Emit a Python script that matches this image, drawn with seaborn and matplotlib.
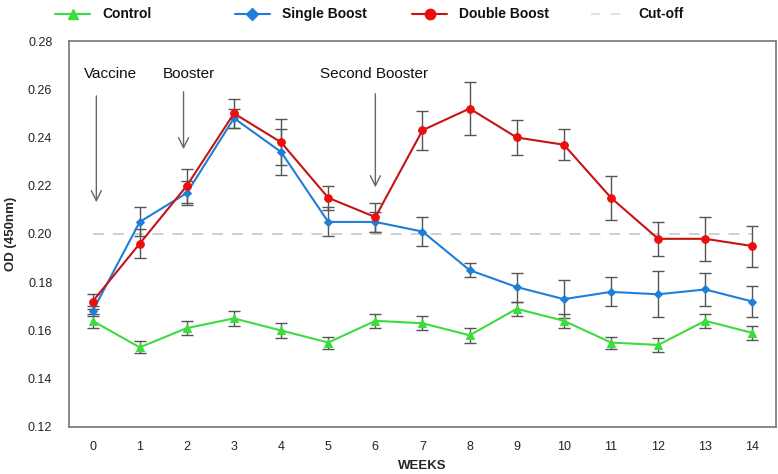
import numpy as np
import pandas as pd
import matplotlib
matplotlib.use('Agg')
import matplotlib.pyplot as plt
from matplotlib.lines import Line2D
import seaborn as sns

weeks = list(range(15))
control = [0.164, 0.153, 0.161, 0.165, 0.160, 0.155, 0.164, 0.163, 0.158, 0.169, 0.164, 0.155, 0.154, 0.164, 0.159]
control_err = [0.003, 0.0025, 0.003, 0.003, 0.003, 0.0025, 0.003, 0.003, 0.003, 0.003, 0.003, 0.0025, 0.003, 0.003, 0.003]
single = [0.168, 0.205, 0.217, 0.248, 0.234, 0.205, 0.205, 0.201, 0.185, 0.178, 0.173, 0.176, 0.175, 0.177, 0.172]
single_err = [0.002, 0.006, 0.005, 0.004, 0.0095, 0.006, 0.004, 0.006, 0.003, 0.006, 0.008, 0.006, 0.0095, 0.007, 0.0063]
double = [0.172, 0.196, 0.220, 0.250, 0.238, 0.215, 0.207, 0.243, 0.252, 0.240, 0.237, 0.215, 0.198, 0.198, 0.195]
double_err = [0.003, 0.006, 0.007, 0.006, 0.0095, 0.005, 0.006, 0.008, 0.011, 0.0073, 0.0065, 0.009, 0.007, 0.009, 0.0085]
cutoff = 0.20
groups = ['Control', 'Single Boost', 'Double Boost']
events = ['Vaccine', 'Booster', 'Second Booster']
event_weeks = [0.08, 1.93, 6.0]

df = pd.concat([
    pd.DataFrame({'Week': weeks, 'OD': control, 'err': control_err, 'Group': 'Control'}),
    pd.DataFrame({'Week': weeks, 'OD': single, 'err': single_err, 'Group': 'Single Boost'}),
    pd.DataFrame({'Week': weeks, 'OD': double, 'err': double_err, 'Group': 'Double Boost'}),
], ignore_index=True)

line_colors = {'Control': '#3ddc3d', 'Single Boost': '#1f7fd8', 'Double Boost': '#c41414'}
marker_colors = {'Control': '#3ddc3d', 'Single Boost': '#1f7fd8', 'Double Boost': '#ee0d0d'}
markers = {'Control': '^', 'Single Boost': 'D', 'Double Boost': 'o'}
msizes = {'Control': 5.5, 'Single Boost': 4, 'Double Boost': 5.5}

sns.set_style('white')
plt.rcParams['font.family'] = ['Liberation Sans', 'DejaVu Sans']

fig = plt.figure(figsize=(7.78, 4.74), dpi=100)
ax = fig.add_axes([0.0887, 0.0992, 0.9087, 0.8143])

ax.plot([0, 14], [cutoff, cutoff], color='#cccccc', lw=1.3, dashes=(6, 5), zorder=1)

for g in groups:
    sub = df[df['Group'] == g]
    ax.errorbar(sub['Week'], sub['OD'], yerr=sub['err'], fmt='none', ecolor='#555555',
                elinewidth=1, capsize=4, capthick=1, zorder=2)
    sns.lineplot(data=sub, x='Week', y='OD', ax=ax, color=line_colors[g], lw=1.5,
                 marker=markers[g], markersize=msizes[g], markerfacecolor=marker_colors[g],
                 markeredgecolor=marker_colors[g], legend=False, zorder=3)

ax.set_xlim(-0.5, 14.5)
ax.set_ylim(0.12, 0.28)
ax.set_xticks(weeks)
ax.set_yticks(np.arange(0.12, 0.281, 0.02))
ax.set_yticklabels([f'{v:.2f}' for v in np.arange(0.12, 0.281, 0.02)])
ax.tick_params(axis='both', direction='in', length=7, width=1, color='#666666',
               labelsize=9, labelcolor='#222222')
ax.tick_params(axis='x', pad=10)
ax.tick_params(axis='y', pad=12)
for s in ax.spines.values():
    s.set_color('#777777')
    s.set_linewidth(1.2)

ax.set_xlabel('WEEKS', fontweight='bold', fontsize=9.5)
ax.set_ylabel('OD (450nm)', fontweight='bold', fontsize=9.5)
ax.xaxis.set_label_coords(0.5, -0.085)
ax.yaxis.set_label_coords(-0.074, 0.5)

arrow_tops = [0.2584, 0.2601, 0.2593]
arrow_bottoms = [0.2120, 0.2340, 0.2182]
text_x = [0.38, 2.04, 5.97]
for name, xw, top, bot, tx in zip(events, event_weeks, arrow_tops, arrow_bottoms, text_x):
    ax.annotate('', xy=(xw, bot), xytext=(xw, top),
                arrowprops=dict(arrowstyle='->', color='#666666', lw=1, mutation_scale=18))
    ax.text(tx, 0.2665, name, ha='center', va='center', fontsize=11, color='#111111')

# legend across the top
leg_x = [0.071, 0.302, 0.530, 0.760]
leg_labels = groups + ['Cut-off']
ly = 0.970
for i, lab in enumerate(leg_labels):
    x0 = leg_x[i]
    if lab == 'Cut-off':
        fig.add_artist(Line2D([x0, x0 + 0.038], [ly, ly], color='#dddddd', lw=1.3,
                              dashes=(5, 6), transform=fig.transFigure))
    else:
        fig.add_artist(Line2D([x0, x0 + 0.045], [ly, ly], color=line_colors[lab], lw=1.5,
                              transform=fig.transFigure))
        fig.add_artist(Line2D([x0 + 0.0225], [ly], marker=markers[lab], markersize=msizes[lab] + 2,
                              color=marker_colors[lab], transform=fig.transFigure))
    fig.text(x0 + 0.06, ly, lab, ha='left', va='center', fontsize=10, fontweight='bold',
             color='#111111')

fig.savefig('out.png', dpi=100)
